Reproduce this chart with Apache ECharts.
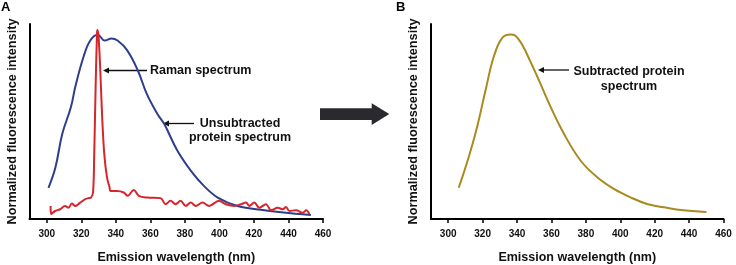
<!DOCTYPE html>
<html>
<head>
<meta charset="utf-8">
<script src="https://cdn.jsdelivr.net/npm/echarts@6/dist/echarts.min.js"></script>
<style>
  html, body { margin: 0; padding: 0; background: #fff; }
  #chart { width: 736px; height: 265px; }
</style>
</head>
<body>
<div id="chart"></div>
<script>
// tick labels on the wavelength axis
const wavelengthTicks = [300, 320, 340, 360, 380, 400, 420, 440, 460];

// panel A: unsubtracted protein spectrum (blue)
const unsubtracted = [
  [301, 0.16], [305, 0.264], [309, 0.437], [314, 0.574], [316.5, 0.677],
  [321.3, 0.832], [325.2, 0.915], [329.5, 0.945], [333.5, 0.915], [337.5, 0.926],
  [341, 0.915], [346.5, 0.866], [352.7, 0.763], [358, 0.64], [364, 0.54],
  [368, 0.488], [375.6, 0.351], [383.5, 0.247], [391, 0.17], [399, 0.11],
  [410.5, 0.067], [426, 0.045], [441.5, 0.029], [453, 0.021]
];

// panel A: Raman spectrum (red)
const raman = [
  [302.2, 0.067], [302.6, 0.026], [304.8, 0.041], [307.7, 0.05], [310.6, 0.067],
  [312.6, 0.058], [314.5, 0.079], [316.5, 0.067], [319.4, 0.084], [322.3, 0.102],
  [324.2, 0.107], [325.6, 0.11], [326.8, 0.136], [327.5, 0.334], [328.3, 0.677],
  [329.1, 0.952], [329.4, 0.969], [330.0, 0.935], [331.0, 0.763], [332.0, 0.54],
  [333.3, 0.334], [334.9, 0.213], [336.4, 0.161], [336.8, 0.144], [340.7, 0.144],
  [344.6, 0.136], [346.9, 0.119], [350.4, 0.149], [353.3, 0.119], [358.2, 0.11],
  [365.9, 0.107], [368.8, 0.076], [371.7, 0.093], [374.6, 0.076], [377.5, 0.093],
  [380.5, 0.067], [383.4, 0.084], [386.3, 0.067], [390.2, 0.084], [394.0, 0.067],
  [399.8, 0.093], [403.7, 0.076], [408.6, 0.067], [412.5, 0.076], [415.4, 0.084],
  [417.3, 0.067], [420.2, 0.084], [423.1, 0.058], [427.0, 0.076], [429.9, 0.045],
  [433.8, 0.058], [436.7, 0.05], [438.6, 0.062], [440.5, 0.041], [444.4, 0.045],
  [448.3, 0.032], [450.3, 0.045], [452.2, 0.024]
];

// panel B: subtracted protein spectrum (gold)
const subtracted = [
  [306.1, 0.16], [311.9, 0.317], [316.8, 0.472], [321.7, 0.66], [326.5, 0.833],
  [331.3, 0.928], [336.2, 0.946], [339.1, 0.94], [343, 0.893], [347.8, 0.807],
  [352.7, 0.712], [359.5, 0.575], [367.2, 0.438], [376.9, 0.3], [386.6, 0.214],
  [396.3, 0.154], [405.9, 0.111], [415.6, 0.077], [425.3, 0.06], [435, 0.046],
  [450.1, 0.036]
];

const FONT = '"Liberation Sans", Arial, sans-serif';

const xAxisBase = (gridIndex) => ({
  type: 'value',
  gridIndex,
  min: 290,
  max: 460,
  name: 'Emission wavelength (nm)',
  nameLocation: 'middle',
  nameGap: 32,
  nameTextStyle: { fontFamily: FONT, fontSize: 12.5, fontWeight: 'bold', color: '#111' },
  axisLine: { lineStyle: { color: '#000', width: 2 } },
  axisTick: { customValues: wavelengthTicks, length: 4, lineStyle: { color: '#000', width: 1.5 } },
  axisLabel: { customValues: wavelengthTicks, fontFamily: FONT, fontSize: 10, fontWeight: 'bold', color: '#111', margin: 10 },
  splitLine: { show: false },
});

const yAxisBase = (gridIndex) => ({
  type: 'value',
  gridIndex,
  min: 0,
  max: 1,
  name: 'Normalized fluorescence intensity',
  nameLocation: 'middle',
  nameGap: 11,
  nameRotate: 90,
  nameTextStyle: { fontFamily: FONT, fontSize: 12.7, fontWeight: 'bold', color: '#111' },
  axisLine: { show: true, lineStyle: { color: '#000', width: 2 } },
  axisTick: { show: false },
  axisLabel: { show: false },
  splitLine: { show: false },
});

const textStyle = { fontFamily: FONT, fontSize: 12.5, fontWeight: 'bold', fill: '#111' };

// small black arrow pointing left, tip at (x1, y)
const leftArrow = (x1, x2, y) => [
  { type: 'line', shape: { x1: x1 + 5, y1: y, x2, y2: y }, style: { stroke: '#111', lineWidth: 1.3 } },
  { type: 'polygon', shape: { points: [[x1, y], [x1 + 6, y - 3], [x1 + 6, y + 3]] }, style: { fill: '#111' } },
];

const chart = echarts.init(document.getElementById('chart'));
chart.setOption({
  animation: false,
  grid: [
    { left: 29.5, top: 24, width: 293.5, height: 195, outerBoundsMode: 'none' },
    { left: 431, top: 24, width: 292.5, height: 195, outerBoundsMode: 'none' },
  ],
  xAxis: [xAxisBase(0), xAxisBase(1)],
  yAxis: [yAxisBase(0), yAxisBase(1)],
  series: [
    {
      name: 'Unsubtracted', type: 'line', xAxisIndex: 0, yAxisIndex: 0,
      data: unsubtracted, smooth: 0.4, showSymbol: false,
      lineStyle: { color: '#2d3e8c', width: 2 },
    },
    {
      name: 'Raman', type: 'line', xAxisIndex: 0, yAxisIndex: 0,
      data: raman, smooth: 0.35, showSymbol: false,
      lineStyle: { color: '#d6252b', width: 2 },
    },
    {
      name: 'Subtracted', type: 'line', xAxisIndex: 1, yAxisIndex: 1,
      data: subtracted, smooth: 0.4, showSymbol: false,
      lineStyle: { color: '#a88a20', width: 2 },
    },
  ],
  graphic: [
    { type: 'text', left: 1, top: 1, style: { text: 'A', fontFamily: FONT, fontSize: 13, fontWeight: 'bold', fill: '#000' } },
    { type: 'text', left: 396, top: 1, style: { text: 'B', fontFamily: FONT, fontSize: 13, fontWeight: 'bold', fill: '#000' } },
    ...leftArrow(103, 147, 70.5),
    { type: 'text', x: 150, y: 71, style: { ...textStyle, text: 'Raman spectrum', align: 'left', verticalAlign: 'middle' } },
    ...leftArrow(163, 194, 123.5),
    { type: 'text', x: 240, y: 130.5, style: { ...textStyle, text: 'Unsubtracted\nprotein spectrum', align: 'center', verticalAlign: 'middle', lineHeight: 14 } },
    ...leftArrow(538, 569, 70),
    { type: 'text', x: 629, y: 79, style: { ...textStyle, text: 'Subtracted protein\nspectrum', align: 'center', verticalAlign: 'middle', lineHeight: 15 } },
    // big arrow between the panels
    {
      type: 'polygon',
      shape: { points: [[320, 108.3], [371.7, 108.3], [371.7, 103.3], [389.3, 114], [371.7, 125], [371.7, 120], [320, 120]] },
      style: { fill: '#2a2a2e' },
    },
  ],
});
</script>
</body>
</html>
